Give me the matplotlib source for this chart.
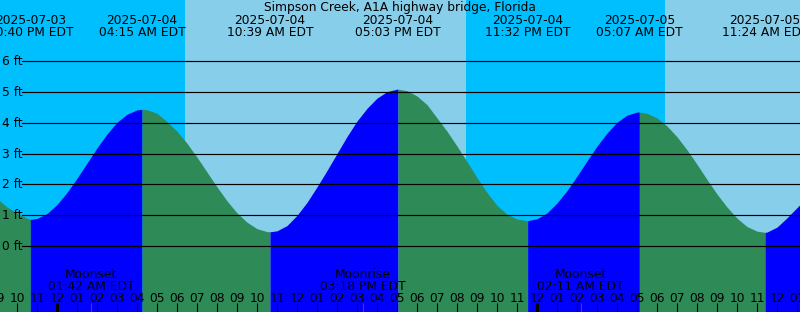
import matplotlib
matplotlib.use("Agg")
import matplotlib.pyplot as plt
import matplotlib.transforms as mtransforms

# ---------------- data (hours relative to 2025-07-04 00:00 EDT) ----------------
title = "Simpson Creek, A1A highway bridge, Florida"

tide_hours = [-3, -2.5, -2, -1.5, -1.333, -1, -0.5, 0, 0.5, 1, 1.5, 2, 2.5, 3, 3.5, 4, 4.25,
              4.5, 5, 5.5, 6, 6.5, 7, 7.5, 8, 8.5, 9, 9.5, 10, 10.5, 10.65,
              11, 11.5, 12, 12.5, 13, 13.5, 14, 14.5, 15, 15.5, 16, 16.5, 17, 17.05,
              17.5, 18, 18.5, 19, 19.5, 20, 20.5, 21, 21.5, 22, 22.5, 23, 23.5, 23.533,
              24, 24.5, 25, 25.5, 26, 26.5, 27, 27.5, 28, 28.5, 29, 29.117,
              29.5, 30, 30.5, 31, 31.5, 32, 32.5, 33, 33.5, 34, 34.5, 35, 35.4,
              35.5, 36, 36.5, 37, 37.5]
tide_feet = [1.55, 1.27, 1.07, 0.91, 0.87, 0.90, 1.06, 1.35, 1.74, 2.20, 2.69, 3.18, 3.63, 4.01, 4.27, 4.41, 4.43,
             4.415, 4.30, 4.03, 3.72, 3.33, 2.88, 2.40, 1.92, 1.47, 1.08, 0.78, 0.57, 0.475, 0.47,
             0.50, 0.67, 1.00, 1.42, 1.92, 2.45, 3.00, 3.55, 4.05, 4.46, 4.79, 5.00, 5.08, 5.08,
             5.03, 4.86, 4.58, 4.15, 3.72, 3.24, 2.74, 2.22, 1.74, 1.32, 1.04, 0.88, 0.83, 0.83,
             0.89, 1.08, 1.40, 1.80, 2.27, 2.76, 3.24, 3.66, 4.01, 4.24, 4.34, 4.34,
             4.30, 4.15, 3.89, 3.54, 3.12, 2.65, 2.16, 1.69, 1.27, 0.91, 0.64, 0.49, 0.45,
             0.46, 0.62, 0.92, 1.25, 1.58]

event_hours = [-1.333, 4.25, 10.65, 17.05, 23.533, 29.117, 35.4]
event_types = ["low", "high", "low", "high", "low", "high", "low"]
event_dates = ["2025-07-03", "2025-07-04", "2025-07-04", "2025-07-04", "2025-07-04", "2025-07-05", "2025-07-05"]
event_times = ["10:40 PM EDT", "04:15 AM EDT", "10:39 AM EDT", "05:03 PM EDT", "11:32 PM EDT", "05:07 AM EDT", "11:24 AM EDT"]

night_starts = [-12.0, 20.45]
night_ends = [6.4, 30.4]

moon_hours = [1.7, 15.3, 26.183]
moon_names = ["Moonset", "Moonrise", "Moonset"]
moon_times = ["01:42 AM EDT", "03:18 PM EDT", "02:11 AM EDT"]

level_ticks = [0, 1, 2, 3, 4, 5, 6]
hour_ticks = list(range(-3, 38))

# ---------------- style ----------------
DAY = "#87CEEB"
NIGHT = "#00BFFF"
FLOOD = "#0000FF"
EBB = "#2E8B57"
W, H = 800, 312
FS = 8.8
plt.rcParams["font.family"] = ["DejaVu Sans"]

fig = plt.figure(figsize=(W / 100, H / 100), dpi=100)
fig.patch.set_facecolor(DAY)
ax = fig.add_axes([0, 0, 1, 1])
ax.set_facecolor(DAY)
ax.set_xlim(-2.85, 37.15)
ax.set_ylim(-2.124, 7.963)
ax.axis("off")

for s, e in zip(night_starts, night_ends):
    ax.axvspan(s, e, color=NIGHT, lw=0, zorder=1)

# tide fill, split at extremes
bounds = [-1e9] + event_hours + [1e9]
end_types = event_types + ["high"]
for i in range(len(bounds) - 1):
    lo, hi = bounds[i], bounds[i + 1]
    xs = [t for t in tide_hours if lo <= t <= hi]
    ys = [f for t, f in zip(tide_hours, tide_feet) if lo <= t <= hi]
    if len(xs) < 2:
        continue
    col = FLOOD if end_types[i] == "high" else EBB
    ax.fill_between(xs, ys, -5, color=col, lw=0, zorder=2)

# level lines and labels
for v in level_ticks:
    ax.axhline(v, xmin=22 / W, xmax=1, color="black", lw=0.85, zorder=3)
ylab_tr = mtransforms.offset_copy(
    mtransforms.blended_transform_factory(ax.transAxes, ax.transData), fig=fig, x=0, y=-4, units="dots")
for v in level_ticks:
    ax.text(2.5 / W, v, f"{v} ft", transform=ylab_tr, ha="left", va="baseline", fontsize=FS, zorder=4)

def yfrac(px):
    return 1 - px / H

bt = mtransforms.blended_transform_factory(ax.transData, ax.transAxes)

# title and event labels
ax.text(0.5, yfrac(11), title, transform=ax.transAxes, ha="center", va="baseline", fontsize=FS, zorder=4)
for t, d, tm in zip(event_hours, event_dates, event_times):
    ax.text(t, yfrac(24), d, transform=bt, ha="center", va="baseline", fontsize=FS, zorder=4)
    ax.text(t, yfrac(36), tm, transform=bt, ha="center", va="baseline", fontsize=FS, zorder=4)

# moon events
for t, n, tm in zip(moon_hours, moon_names, moon_times):
    ax.text(t, yfrac(278.5), n, transform=bt, ha="center", va="baseline", fontsize=FS, zorder=4)
    ax.text(t, yfrac(289.5), tm, transform=bt, ha="center", va="baseline", fontsize=FS, zorder=4)

# hour ticks and labels
for h in hour_ticks:
    lab = f"{(h % 12) or 12:02d}"
    ax.text(h, yfrac(301.5), lab, transform=bt, ha="center", va="baseline", fontsize=FS, zorder=4)
    lw = 2.2 if h % 24 == 0 else 0.8
    ax.plot([h, h], [0, 9 / H], transform=bt, color="black", lw=lw, solid_capstyle="butt", zorder=5)
for t in moon_hours:
    ax.plot([t, t], [0, 9 / H], transform=bt, color="red", lw=0.8, solid_capstyle="butt", zorder=5)

fig.savefig("out.png", dpi=100, facecolor=DAY)
